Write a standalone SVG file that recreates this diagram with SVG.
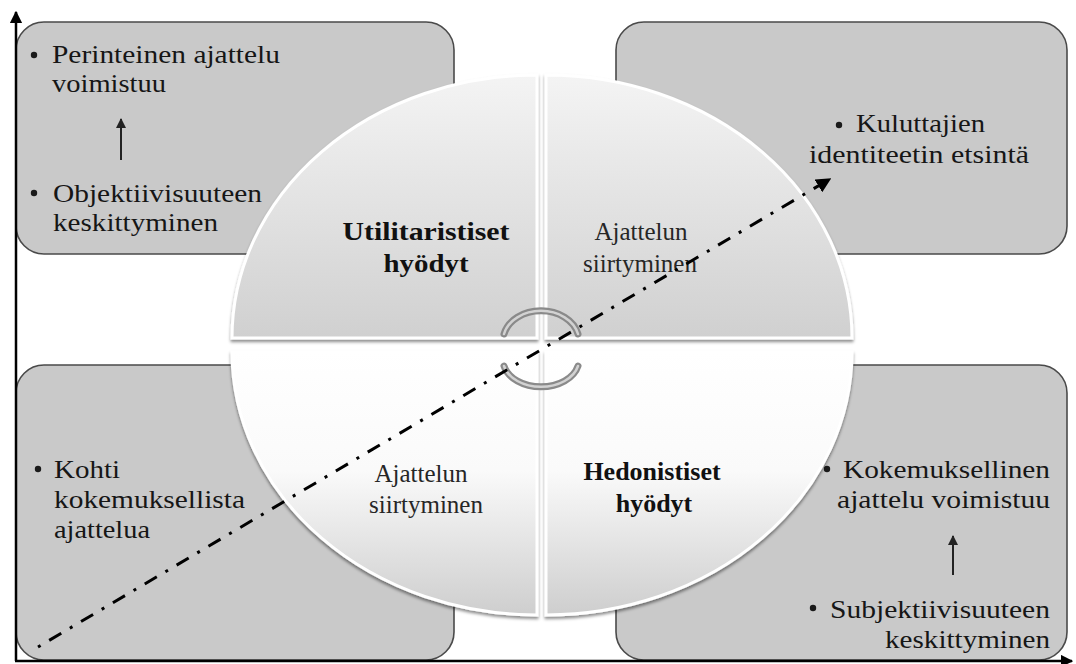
<svg xmlns="http://www.w3.org/2000/svg" width="1076" height="664" viewBox="0 0 1076 664">
  <style>
    .box { fill: #c9c9c9; stroke: #4a4a4a; stroke-width: 1.6; }
    .txt { font-family: "Liberation Serif", "Times New Roman", serif; font-size: 25px; fill: #161616; }
    .lbl { font-family: "Liberation Serif", "Times New Roman", serif; font-size: 25px; fill: #262626; text-anchor: middle; }
    .bold { font-weight: bold; font-size: 26px; fill: #111; }
    .dot { fill: #1a1a1a; }
    .axis { stroke: #000; stroke-width: 2.5; fill: none; }
    .quad { stroke: #ffffff; stroke-width: 3; filter: url(#shadow); }
    .arc-outer { fill: none; stroke: #8a8a8a; stroke-width: 7; stroke-linecap: round; }
    .arc-inner { fill: none; stroke: #d2d2d2; stroke-width: 2.5; stroke-linecap: round; }
    .small-arrow { stroke: #222; stroke-width: 2; fill: none; }
  </style>
  <defs>
    <linearGradient id="gTop" x1="0" y1="0" x2="0" y2="1">
      <stop offset="0" stop-color="#f4f4f4"/>
      <stop offset="1" stop-color="#d0d0d0"/>
    </linearGradient>
    <linearGradient id="gBottom" x1="0" y1="0" x2="0" y2="1">
      <stop offset="0" stop-color="#ffffff"/>
      <stop offset="0.45" stop-color="#fafafa"/>
      <stop offset="1" stop-color="#cecece"/>
    </linearGradient>
    <filter id="shadow" x="-10%" y="-10%" width="120%" height="125%">
      <feDropShadow dx="0" dy="2.5" stdDeviation="1.8" flood-color="#000" flood-opacity="0.45"/>
    </filter>
    <marker id="headBlack" viewBox="0 0 10 10" refX="9" refY="5" markerWidth="5" markerHeight="5" orient="auto" markerUnits="strokeWidth">
      <path d="M0,0 L10,5 L0,10 Z" fill="#000"/>
    </marker>
    <marker id="headSmall" viewBox="0 0 10 10" refX="9" refY="5" markerWidth="5" markerHeight="5" orient="auto" markerUnits="strokeWidth">
      <path d="M0,0 L10,5 L0,10 Z" fill="#222"/>
    </marker>
  </defs>

  <rect width="1076" height="664" fill="#ffffff"/>

  <!-- corner boxes -->
  <g id="box-top-left">
    <rect class="box" x="16" y="22" width="438" height="232" rx="28"/>
    <circle class="dot" cx="34" cy="55" r="3.2"/>
    <text class="txt" x="52" y="63" textLength="228" lengthAdjust="spacingAndGlyphs">Perinteinen  ajattelu</text>
    <text class="txt" x="52" y="92" textLength="114" lengthAdjust="spacingAndGlyphs">voimistuu</text>
    <line class="small-arrow" x1="121" y1="160" x2="121" y2="119" marker-end="url(#headSmall)"/>
    <circle class="dot" cx="34" cy="193" r="3.2"/>
    <text class="txt" x="53" y="202" textLength="209" lengthAdjust="spacingAndGlyphs">Objektiivisuuteen</text>
    <text class="txt" x="53" y="231" textLength="165" lengthAdjust="spacingAndGlyphs">keskittyminen</text>
  </g>

  <g id="box-top-right">
    <rect class="box" x="616" y="22" width="451" height="232" rx="28"/>
    <circle class="dot" cx="839" cy="125" r="3.2"/>
    <text class="txt" x="856" y="132" textLength="129" lengthAdjust="spacingAndGlyphs">Kuluttajien</text>
    <text class="txt" x="809" y="163" textLength="220" lengthAdjust="spacingAndGlyphs">identiteetin  etsintä</text>
  </g>

  <g id="box-bottom-left">
    <rect class="box" x="16" y="365" width="438" height="295" rx="28"/>
    <circle class="dot" cx="38" cy="469" r="3.2"/>
    <text class="txt" x="54" y="478" textLength="66" lengthAdjust="spacingAndGlyphs">Kohti</text>
    <text class="txt" x="54" y="508" textLength="191" lengthAdjust="spacingAndGlyphs">kokemuksellista</text>
    <text class="txt" x="54" y="538" textLength="96" lengthAdjust="spacingAndGlyphs">ajattelua</text>
  </g>

  <g id="box-bottom-right">
    <rect class="box" x="616" y="365" width="451" height="295" rx="28"/>
    <circle class="dot" cx="827" cy="469" r="3.2"/>
    <text class="txt" x="843" y="478" textLength="207" lengthAdjust="spacingAndGlyphs">Kokemuksellinen</text>
    <text class="txt" x="837" y="508" textLength="213" lengthAdjust="spacingAndGlyphs">ajattelu  voimistuu</text>
    <line class="small-arrow" x1="953" y1="575" x2="953" y2="536" marker-end="url(#headSmall)"/>
    <circle class="dot" cx="813" cy="608" r="3.2"/>
    <text class="txt" x="830" y="618" textLength="220" lengthAdjust="spacingAndGlyphs">Subjektiivisuuteen</text>
    <text class="txt" x="885" y="648" textLength="165" lengthAdjust="spacingAndGlyphs">keskittyminen</text>
  </g>

  <!-- axes -->
  <g id="axes">
    <line class="axis" x1="16" y1="661" x2="16" y2="12" marker-end="url(#headBlack)"/>
    <line class="axis" x1="15" y1="661" x2="1072" y2="661" marker-end="url(#headBlack)"/>
  </g>

  <!-- the four quadrants of the central ellipse -->
  <g id="quadrant-utilitarian">
    <path class="quad" fill="url(#gTop)" d="M537,338 L232,338 A305,263 0 0 1 537,75 Z"/>
    <text class="lbl bold" x="426" y="240" textLength="167" lengthAdjust="spacingAndGlyphs">Utilitaristiset</text>
    <text class="lbl bold" x="426" y="272" textLength="85" lengthAdjust="spacingAndGlyphs">hyödyt</text>
  </g>
  <g id="quadrant-shift-top">
    <path class="quad" fill="url(#gTop)" d="M546,338 L546,75 A306,263 0 0 1 852,338 Z"/>
    <text class="lbl" x="641" y="240">Ajattelun</text>
    <text class="lbl" x="640" y="272">siirtyminen</text>
  </g>
  <g id="quadrant-shift-bottom">
    <path class="quad" fill="url(#gBottom)" d="M537,352 L537,615 A305,263 0 0 1 232,352 Z"/>
    <text class="lbl" x="421" y="482">Ajattelun</text>
    <text class="lbl" x="426" y="513">siirtyminen</text>
  </g>
  <g id="quadrant-hedonic">
    <path class="quad" fill="url(#gBottom)" d="M546,352 L852,352 A306,263 0 0 1 546,615 Z"/>
    <text class="lbl bold" x="652" y="480">Hedonistiset</text>
    <text class="lbl bold" x="654" y="512">hyödyt</text>
  </g>

  <!-- connectors: cycle arcs and the dash-dot trend arrow -->
  <g id="connectors">
    <path class="arc-outer" d="M504,334 A38,30 0 0 1 578,334"/>
    <path class="arc-inner" d="M504,334 A38,30 0 0 1 578,334"/>
    <path class="arc-outer" d="M504,366 A38,27 0 0 0 578,366"/>
    <path class="arc-inner" d="M504,366 A38,27 0 0 0 578,366"/>
    <line x1="38" y1="647" x2="830" y2="179" stroke="#000" stroke-width="3" stroke-dasharray="3 10 14 10" marker-end="url(#headBlack)"/>
  </g>
</svg>
